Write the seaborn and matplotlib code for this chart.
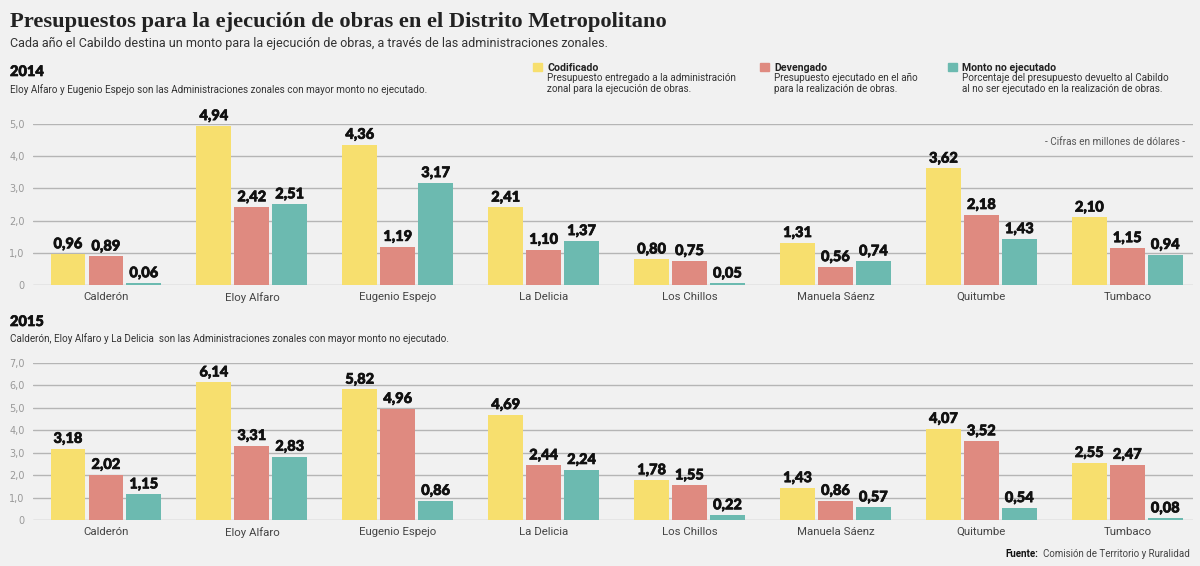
import matplotlib
matplotlib.use('agg')
import matplotlib.pyplot as plt
import matplotlib.patheffects as pe
import pandas as pd
import seaborn as sns

zonas = ['Calderón', 'Eloy Alfaro', 'Eugenio Espejo', 'La Delicia',
         'Los Chillos', 'Manuela Sáenz', 'Quitumbe', 'Tumbaco']
series = ['Codificado', 'Devengado', 'Monto no ejecutado']

codificado_2014 = [0.96, 4.94, 4.36, 2.41, 0.80, 1.31, 3.62, 2.10]
devengado_2014 = [0.89, 2.42, 1.19, 1.10, 0.75, 0.56, 2.18, 1.15]
no_ejecutado_2014 = [0.06, 2.51, 3.17, 1.37, 0.05, 0.74, 1.43, 0.94]

codificado_2015 = [3.18, 6.14, 5.82, 4.69, 1.78, 1.43, 4.07, 2.55]
devengado_2015 = [2.02, 3.31, 4.96, 2.44, 1.55, 0.86, 3.52, 2.47]
no_ejecutado_2015 = [1.15, 2.83, 0.86, 2.24, 0.22, 0.57, 0.54, 0.08]

ticks_2014 = [0, 1, 2, 3, 4, 5]
ticks_2015 = [0, 1, 2, 3, 4, 5, 6, 7]

colores = ['#F7DF6E', '#DF8A80', '#6CBAB0']
bg = '#F1F1F1'

sns.set_theme(style='white')
plt.rcParams['font.family'] = ['Roboto', 'DejaVu Sans']

# trazo extra para que las cifras se vean más gruesas
grueso = [pe.withStroke(linewidth=0.5, foreground='#111111')]


def tabla(a, b, c):
    rows = []
    for vals, s in zip([a, b, c], series):
        for z, v in zip(zonas, vals):
            rows.append({'zona': z, 'serie': s, 'valor': v})
    return pd.DataFrame(rows)


def panel(ax, df, ticks):
    ax.set_facecolor(bg)
    sns.barplot(data=df, x='zona', y='valor', hue='serie', palette=colores,
                width=0.78, gap=0.08, saturation=1, legend=False, ax=ax,
                linewidth=0, zorder=3)
    for cont in ax.containers:
        labels = [f'{v:.2f}'.replace('.', ',') for v in cont.datavalues]
        txts = ax.bar_label(cont, labels=labels, padding=2, fontsize=10.5,
                            fontweight='black', color='#111111',
                            family=['Lato', 'DejaVu Sans'], clip_on=False)
        for t in txts:
            t.set_path_effects(grueso)
    ax.set_ylim(0, ticks[-1])
    ax.set_xlim(-0.5, 7.45)
    ax.set_yticks(ticks)
    ax.set_yticklabels(['0'] + [f'{t:.1f}'.replace('.', ',') for t in ticks[1:]],
                       fontsize=7, color='#999999', family='DejaVu Sans')
    ax.tick_params(axis='y', length=0, pad=6)
    ax.tick_params(axis='x', length=0, pad=5, labelsize=8.2, labelcolor='#444444')
    ax.grid(axis='y', color='#B5B5B5', linewidth=1, zorder=0)
    ax.set_xlabel('')
    ax.set_ylabel('')
    for s in ax.spines.values():
        s.set_visible(False)


fig = plt.figure(figsize=(12, 5.66), dpi=100)
fig.patch.set_facecolor(bg)

ax1 = fig.add_axes([0.0275, 0.4965, 0.9667, 0.2845])
ax2 = fig.add_axes([0.0275, 0.0813, 0.9667, 0.2774])
panel(ax1, tabla(codificado_2014, devengado_2014, no_ejecutado_2014), ticks_2014)
panel(ax2, tabla(codificado_2015, devengado_2015, no_ejecutado_2015), ticks_2015)


def fy(py):
    return 1 - py / 566


fig.text(10 / 1200, fy(22), 'Presupuestos para la ejecución de obras en el Distrito Metropolitano',
         family='Liberation Serif', fontweight='bold', fontsize=16.2, color='#222222', va='center')
fig.text(10 / 1200, fy(43), 'Cada año el Cabildo destina un monto para la ejecución de obras, a través de las administraciones zonales.',
         fontsize=9, color='#333333', va='center')

for py, anio in [(72, '2014'), (322, '2015')]:
    fig.text(10 / 1200, fy(py), anio, family=['Lato', 'DejaVu Sans'], fontweight='black',
             fontsize=10.5, color='#111111', va='center', path_effects=grueso)
fig.text(10 / 1200, fy(90), 'Eloy Alfaro y Eugenio Espejo son las Administraciones zonales con mayor monto no ejecutado.',
         fontsize=7.1, color='#333333', va='center')
fig.text(10 / 1200, fy(339), 'Calderón, Eloy Alfaro y La Delicia  son las Administraciones zonales con mayor monto no ejecutado.',
         fontsize=7.1, color='#333333', va='center')

leyenda = [
    (533, 'Codificado', 'Presupuesto entregado a la administración\nzonal para la ejecución de obras.'),
    (760, 'Devengado', 'Presupuesto ejecutado en el año\npara la realización de obras.'),
    (948, 'Monto no ejecutado', 'Porcentaje del presupuesto devuelto al Cabildo\nal no ser ejecutado en la realización de obras.'),
]
for (px, nombre, desc), col in zip(leyenda, colores):
    fig.patches.append(plt.Rectangle((px / 1200, fy(71)), 9 / 1200, 8 / 566,
                                     transform=fig.transFigure, color=col))
    fig.text((px + 14) / 1200, fy(68), nombre, fontsize=7.6, fontweight='bold',
             color='#222222', va='center')
    fig.text((px + 14) / 1200, fy(73), desc, fontsize=7.1, color='#333333',
             va='top', linespacing=1.1)

fig.text(1185 / 1200, fy(142), '- Cifras en millones de dólares -', fontsize=7.2,
         color='#555555', ha='right', va='center')

fuente = fig.text(1190 / 1200, fy(554), 'Comisión de Territorio y Ruralidad', fontsize=7,
                  color='#444444', ha='right', va='center')
fig.canvas.draw()
bb = fuente.get_window_extent()
fig.text((bb.x0 - 5) / 1200, fy(554), 'Fuente:', fontsize=7, fontweight='bold',
         color='#111111', ha='right', va='center')

fig.savefig('out.png', dpi=100, facecolor=bg)
